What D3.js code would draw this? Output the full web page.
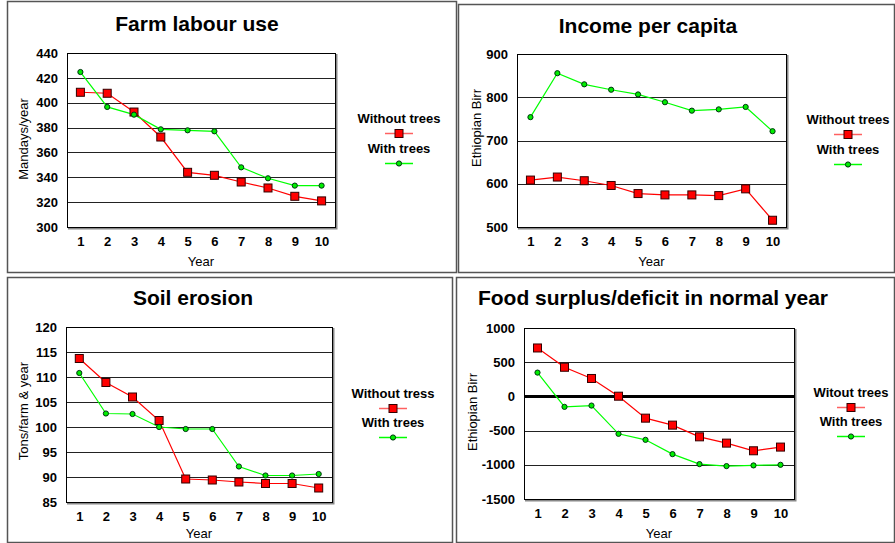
<!DOCTYPE html>
<html>
<head>
<meta charset="utf-8">
<script src="https://cdn.jsdelivr.net/npm/d3@7"></script>
<style>
  html, body { margin: 0; padding: 0; background: #fff; }
  svg { display: block; font-family: Arial, "Liberation Sans", Helvetica, sans-serif; }
</style>
</head>
<body>
<svg id="chart" width="895" height="543"></svg>
<script>
// Ten-year simulation results, with and without trees on the farm
const years = [1, 2, 3, 4, 5, 6, 7, 8, 9, 10];

const labourWithout = [408.4, 407.6, 392.5, 372.4, 344.0, 341.6, 336.2, 331.4, 324.7, 321.0];
const labourWith    = [424.7, 396.6, 390.4, 378.6, 377.8, 377.0, 348.0, 339.2, 333.3, 333.3];
const labourTicks   = [300, 320, 340, 360, 380, 400, 420, 440];

const incomeWithout = [608.5, 615.5, 607, 596, 577.3, 574.2, 574.2, 572.6, 588.2, 515.6];
const incomeWith    = [754, 855.6, 829.9, 817.4, 806.5, 788.5, 769, 772, 777.6, 721.5];
const incomeTicks   = [500, 600, 700, 800, 900];

const erosionWithout = [113.7, 108.9, 106.0, 101.3, 89.6, 89.4, 89.0, 88.7, 88.7, 87.8];
const erosionWith    = [110.8, 102.7, 102.6, 100.0, 99.6, 99.6, 92.1, 90.3, 90.3, 90.6];
const erosionTicks   = [85, 90, 95, 100, 105, 110, 115, 120];

const foodWithout = [708, 426, 262, 3, -318, -420, -591, -683, -795, -741];
const foodWith    = [348, -153, -134, -547, -635, -844, -990, -1019, -1009, -1000];
const foodTicks   = [-1500, -1000, -500, 0, 500, 1000];

const panels = [
  {
    box: [7, 1, 457, 273], plot: [67, 53, 335, 227],
    title: "Farm labour use", titleX: 197, titleY: 31,
    yLabel: "Mandays/year", yLabelX: 23, yLabelY: 139,
    xLabelY: 266,
    ticks: labourTicks, without: labourWithout, withT: labourWith,
    legendNames: ["Without trees", "With trees"],
    legendX: 399, legendY: [123, 153]
  },
  {
    box: [458, 4, 895, 273], plot: [517, 54, 786, 227],
    title: "Income per capita", titleX: 648, titleY: 33,
    yLabel: "Ethiopian Birr", yLabelX: 476, yLabelY: 128,
    xLabelY: 266,
    ticks: incomeTicks, without: incomeWithout, withT: incomeWith,
    legendNames: ["Without trees", "With trees"],
    legendX: 848, legendY: [124, 154]
  },
  {
    box: [7, 277, 453, 543], plot: [66, 327, 332, 502],
    title: "Soil erosion", titleX: 193, titleY: 305,
    yLabel: "Tons/farm & year", yLabelX: 23, yLabelY: 411,
    xLabelY: 538,
    ticks: erosionTicks, without: erosionWithout, withT: erosionWith,
    legendNames: ["Without tress", "With trees"],
    legendX: 393, legendY: [398, 427]
  },
  {
    box: [456, 277, 895, 543], plot: [524, 328, 794, 499],
    title: "Food surplus/deficit in normal year", titleX: 653, titleY: 305,
    yLabel: "Ethiopian Birr", yLabelX: 472, yLabelY: 412,
    xLabelY: 538,
    ticks: foodTicks, without: foodWithout, withT: foodWith,
    legendNames: ["Witout trees", "With trees"],
    legendX: 851, legendY: [397, 426],
    zeroLine: true
  }
];

const svg = d3.select("#chart");
const FONT = "Arial, 'Liberation Sans', sans-serif";

function drawPanel(p) {
  const g = svg.append("g");
  const [bx0, by0, bx1, by1] = p.box;
  const [px0, py0, px1, py1] = p.plot;

  // panel frame
  g.append("rect")
    .attr("x", bx0 + 0.5).attr("y", by0 + 0.5)
    .attr("width", bx1 - bx0 - 1).attr("height", by1 - by0 - 1)
    .attr("fill", "#fff").attr("stroke", "#555").attr("stroke-width", 1.5);

  const x = d3.scalePoint().domain(years).range([px0, px1]).padding(0.5);
  const y = d3.scaleLinear().domain(d3.extent(p.ticks)).range([py1, py0]);

  // horizontal gridlines
  g.append("g").selectAll("line")
    .data(p.ticks.filter(t => t !== p.ticks[0] && t !== p.ticks[p.ticks.length - 1]))
    .join("line")
    .attr("x1", px0).attr("x2", px1)
    .attr("y1", d => Math.round(y(d)) + 0.5).attr("y2", d => Math.round(y(d)) + 0.5)
    .attr("stroke", d => (p.zeroLine && d === 0) ? "#000" : "#222")
    .attr("stroke-width", d => (p.zeroLine && d === 0) ? 3 : 1.2);

  // plot area frame with a soft shadow on the right and bottom
  g.append("path")
    .attr("d", `M${px1 + 1.5},${py0 + 1} V${py1 + 1.5} H${px0 + 1}`)
    .attr("fill", "none").attr("stroke", "#888").attr("stroke-width", 2);
  g.append("rect")
    .attr("x", px0 + 0.5).attr("y", py0 + 0.5)
    .attr("width", px1 - px0).attr("height", py1 - py0)
    .attr("fill", "none").attr("stroke", "#000").attr("stroke-width", 1);

  // y axis labels
  const yAxis = d3.axisLeft(y).tickValues(p.ticks).tickSize(0).tickPadding(9)
    .tickFormat(d => String(d));
  const ya = g.append("g").attr("transform", `translate(${px0},0)`).call(yAxis)
    .attr("font-family", FONT);
  ya.select(".domain").remove();
  ya.selectAll("text")
    .attr("font-size", 13).attr("font-weight", "bold").attr("fill", "#000");

  // x axis labels
  const xAxis = d3.axisBottom(x).tickSize(0).tickPadding(10);
  const xa = g.append("g").attr("transform", `translate(0,${py1})`).call(xAxis)
    .attr("font-family", FONT);
  xa.select(".domain").remove();
  xa.selectAll("text")
    .attr("font-size", 13).attr("font-weight", "bold").attr("fill", "#000");

  // titles
  g.append("text").attr("x", p.titleX).attr("y", p.titleY)
    .attr("text-anchor", "middle").attr("font-size", 21).attr("font-weight", "bold")
    .text(p.title);
  g.append("text").attr("x", (px0 + px1) / 2).attr("y", p.xLabelY)
    .attr("text-anchor", "middle").attr("font-size", 13).text("Year");
  g.append("text")
    .attr("transform", `translate(${p.yLabelX},${p.yLabelY}) rotate(-90)`)
    .attr("text-anchor", "middle").attr("dominant-baseline", "central")
    .attr("font-size", 13).text(p.yLabel);

  // series
  const line = d3.line().x((d, i) => x(years[i])).y(d => y(d));
  g.append("path").datum(p.without).attr("d", line)
    .attr("fill", "none").attr("stroke", "#ff0000").attr("stroke-width", 1.2);
  g.append("path").datum(p.withT).attr("d", line)
    .attr("fill", "none").attr("stroke", "#00ff00").attr("stroke-width", 1.2);

  g.append("g").selectAll("rect").data(p.without).join("rect")
    .attr("x", (d, i) => x(years[i]) - 4).attr("y", d => y(d) - 4)
    .attr("width", 8).attr("height", 8)
    .attr("fill", "#ff0000").attr("stroke", "#300").attr("stroke-width", 1);
  g.append("g").selectAll("circle").data(p.withT).join("circle")
    .attr("cx", (d, i) => x(years[i])).attr("cy", d => y(d)).attr("r", 2.6)
    .attr("fill", "#00ee00").attr("stroke", "#031").attr("stroke-width", 1);

  // legend
  const lx = p.legendX;
  const leg = g.append("g");
  leg.append("text").attr("x", lx).attr("y", p.legendY[0])
    .attr("text-anchor", "middle").attr("font-size", 13).attr("font-weight", "bold")
    .text(p.legendNames[0]);
  leg.append("line").attr("x1", lx - 14).attr("x2", lx + 14)
    .attr("y1", p.legendY[0] + 10.5).attr("y2", p.legendY[0] + 10.5)
    .attr("stroke", "#ff6060").attr("stroke-width", 1.5);
  leg.append("rect").attr("x", lx - 4).attr("y", p.legendY[0] + 6.5)
    .attr("width", 8).attr("height", 8)
    .attr("fill", "#ff0000").attr("stroke", "#300").attr("stroke-width", 1);
  leg.append("text").attr("x", lx).attr("y", p.legendY[1])
    .attr("text-anchor", "middle").attr("font-size", 13).attr("font-weight", "bold")
    .text(p.legendNames[1]);
  leg.append("line").attr("x1", lx - 14).attr("x2", lx + 14)
    .attr("y1", p.legendY[1] + 10.5).attr("y2", p.legendY[1] + 10.5)
    .attr("stroke", "#00ff00").attr("stroke-width", 1.5);
  leg.append("circle").attr("cx", lx).attr("cy", p.legendY[1] + 10.5).attr("r", 2.6)
    .attr("fill", "#00ee00").attr("stroke", "#031").attr("stroke-width", 1);
}

panels.forEach(drawPanel);
</script>
</body>
</html>
